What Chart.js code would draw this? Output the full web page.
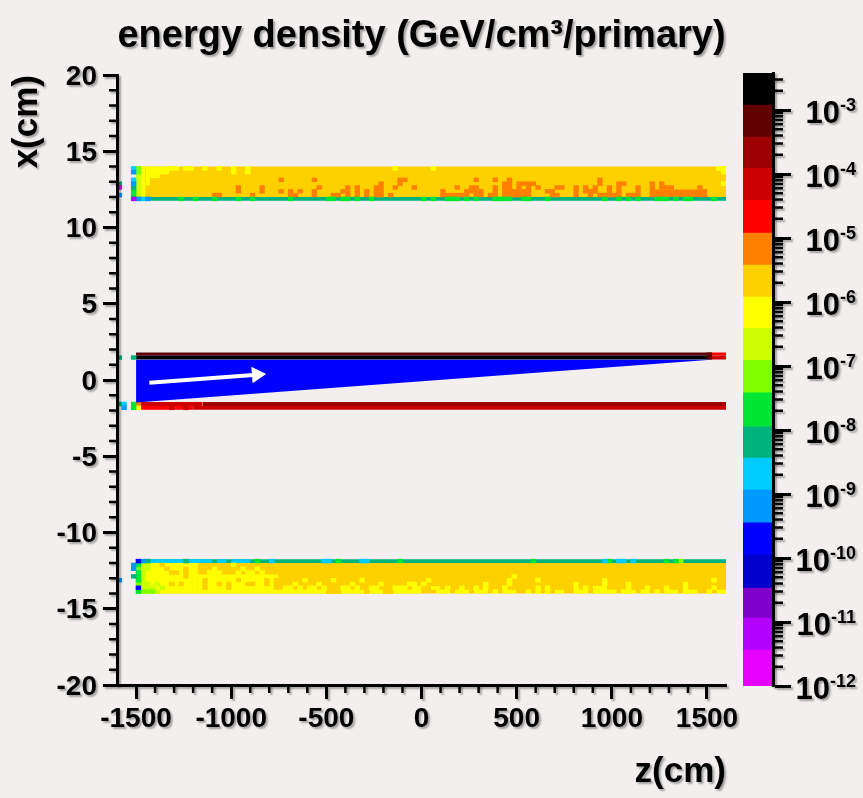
<!DOCTYPE html>
<html>
<head>
<meta charset="utf-8">
<script src="https://cdn.jsdelivr.net/npm/chart.js@4.4.1/dist/chart.umd.min.js"></script>
<style>
  html, body { margin: 0; padding: 0; background: #f2efee; }
  #wrap { position: relative; width: 863px; height: 798px; }
  #wrap canvas { position: absolute; left: 0; top: 0; }
</style>
</head>
<body>
<div id="wrap">
  <canvas id="map" width="863" height="798"></canvas>
  <canvas id="palette" width="863" height="798"></canvas>
</div>
<script>
// palette levels, lowest first
const MAG = 0, VIO = 1, PUR = 2, DBL = 3, BLU = 4, SKY = 5, CYN = 6, TEA = 7, GRN = 8, CHA = 9,
      YGR = 10, YEL = 11, GLD = 12, ORA = 13, RED = 14, CRI = 15, DRD = 16, MAR = 17, BLK = 18;
const levelColors = ['#e600ff', '#b300ff', '#8000cc', '#0000cc', '#0000ff', '#0099ff', '#00ccff',
  '#00b37d', '#00e633', '#80ff00', '#ccff00', '#ffff00', '#fdd000', '#ff8000', '#ff0000',
  '#cc0000', '#9c0000', '#600000', '#000000'];
// log10 of the palette boundaries
const levelEdges = [-12, -11.44, -10.94, -10.47, -9.95, -9.45, -8.94, -8.44, -7.95, -7.42,
  -6.91, -6.41, -5.92, -5.42, -4.92, -4.41, -3.91, -3.42, -2.92, -2.42];
const paletteDecades = [-12, -11, -10, -9, -8, -7, -6, -5, -4, -3];

const zTicks = [-1500, -1000, -500, 0, 500, 1000, 1500];
const xTicks = [-20, -15, -10, -5, 0, 5, 10, 15, 20];
const zBin = 25;

// uniform areas: [zFrom, zTo, xFrom, xTo, level]
const upperAreas = [
  [-1500, 1600, 12, 14, GLD],
  [-1500, 1600, 11.75, 12, TEA],
  [-1475, -1450, 12, 14, YEL],
  [-1450, -1325, 13.5, 14, YEL],
  [-1450, -1425, 12.75, 13.5, YEL],
  [-1425, -1375, 13.25, 13.5, YEL],
  [1225, 1475, 12, 12.5, ORA]
];
const lowerAreas = [
  [-1500, 1600, -14, -12, GLD],
  [-1500, 1600, -12, -11.75, TEA],
  [-1475, -1175, -14, -12, YEL],
  [-1175, -750, -14, -12.75, YEL],
  [-750, -50, -14, -13.75, YEL],
  [-50, 0, -14, -13.5, YEL],
  [50, 100, -13.75, -13.5, YEL],
  [75, 150, -14, -13.75, YEL],
  [175, 250, -14, -13.75, YEL],
  [275, 350, -14, -13.75, YEL],
  [425, 500, -14, -13.75, YEL],
  [700, 750, -14, -13.75, YEL],
  [800, 875, -14, -13.75, YEL],
  [900, 1025, -14, -13.75, YEL],
  [900, 975, -13.75, -13.5, YEL],
  [1075, 1125, -14, -13.75, YEL],
  [1150, 1200, -14, -13.75, YEL],
  [1275, 1350, -14, -13.75, YEL],
  [1400, 1450, -14, -13.75, YEL],
  [1550, 1600, -14, -13.75, YEL],
  [-1475, -1100, -12, -11.75, CYN],
  [-1075, -1025, -12, -11.75, CYN],
  [-1000, -900, -12, -11.75, CYN]
];
const pipeAreas = [
  [-1500, 1500, 1.6, 1.8, MAR],
  [-1500, 1500, 1.35, 1.6, BLK],
  [1525, 1600, 1.6, 1.8, RED],
  [1525, 1600, 1.35, 1.6, CRI],
  [-1475, -1150, -1.7, -1.45, CRI],
  [-1150, 1600, -1.7, -1.45, DRD],
  [-1475, -1200, -1.95, -1.7, RED],
  [-1200, 1600, -1.95, -1.7, CRI]
];

// single z columns: [zFrom, xFrom, xTo, level]
const upperCells = [
  [-1600, 12.75, 13, TEA], [-1600, 12.5, 12.75, MAG], [-1600, 12, 12.25, SKY],
  [-1525, 13.75, 14, CYN], [-1525, 13.5, 13.75, SKY], [-1525, 13, 13.25, CYN], [-1525, 12.75, 13, SKY],
  [-1525, 12.5, 12.75, TEA], [-1525, 12, 12.5, GRN], [-1525, 11.75, 12, VIO],
  [-1500, 13.5, 14, CHA], [-1500, 12, 13.5, YGR], [-1500, 11.75, 12, SKY],
  [-1475, 11.75, 12, CYN], [-1450, 11.75, 12, SKY],
  [-1325, 13.75, 14, YEL], [-1300, 13.75, 14, YEL], [-1250, 13.75, 14, YEL], [-1225, 13.75, 14, YEL],
  [-1150, 13.75, 14, YEL], [-1075, 13.75, 14, YEL], [-1000, 13.5, 14, YEL], [-925, 13.5, 14, YEL],
  [-150, 13.75, 14, YEL], [50, 13.75, 14, YEL], [1550, 13.75, 14, YEL], [1575, 13.5, 14, YEL],
  [1575, 12.75, 13, YEL]
];
// orange columns in the upper band: [zFrom, xFrom, xTo]
const upperOrange = [
  [-1100, 12, 12.25], [-1075, 12, 12.25], [-975, 12.25, 12.75], [-900, 12, 12.25], [-850, 12.25, 12.75],
  [-750, 13, 13.25], [-750, 12.25, 12.5], [-700, 12, 12.5], [-675, 12, 12.25], [-650, 12.25, 12.5],
  [-575, 13, 13.25], [-575, 12, 12.5], [-550, 12.5, 12.75], [-475, 12, 12.25], [-450, 12, 12.25],
  [-425, 12.25, 12.5], [-400, 12, 12.75], [-350, 12, 12.75], [-300, 12, 12.5], [-250, 12, 12.75],
  [-225, 12, 13], [-175, 12, 12.25], [-150, 12.5, 12.75], [-125, 12.75, 13.25], [-100, 13, 13.25],
  [-50, 12.5, 12.75], [100, 12, 12.5], [125, 12, 12.25], [150, 12, 12.25], [175, 12, 12.25],
  [175, 12.5, 12.75], [200, 12, 12.25], [225, 12, 12.5], [250, 12.25, 12.75], [275, 12, 12.75],
  [275, 13, 13.25], [300, 12, 12.5], [350, 12, 12.25], [375, 12, 12.75], [375, 13, 13.25],
  [425, 12, 13], [450, 12, 13.25], [475, 12, 12.5], [500, 12, 13], [525, 12, 12.5], [525, 12.75, 13],
  [550, 12, 13], [575, 12.75, 13], [600, 12.5, 12.75], [650, 12.25, 12.5], [675, 12, 12.5],
  [700, 12, 12.25], [700, 12.5, 12.75], [725, 12.5, 12.75], [800, 12, 12.75], [850, 12.25, 12.75],
  [875, 12, 12.5], [900, 12.25, 12.75], [925, 12, 12.25], [925, 12.75, 13.25], [950, 12, 12.25],
  [975, 12, 12.75], [1000, 12, 12.25], [1025, 12, 13], [1050, 12.75, 13], [1075, 12, 12.25],
  [1100, 12, 12.25], [1125, 12, 12.75], [1200, 12, 13], [1250, 12.5, 13], [1275, 12.5, 12.75],
  [1300, 12.5, 12.75], [1450, 12.5, 12.75], [1475, 12, 12.5]
];
// green cells in the bottom row (11.75..12) of the upper band: zFrom
const upperGreen = [-1275, -1200, -1100, -975, -900, -700, -500, -475, -425, -400, -350, -275,
  0, 50, 125, 150, 175, 225, 275, 375, 400, 425, 450, 525, 550, 650, 950, 1025, 1075, 1125,
  1225, 1250, 1275, 1325, 1375, 1400, 1525];

const lowerCells = [
  [-1600, -13.25, -13, SKY],
  [-1525, -12.5, -12, SKY], [-1525, -13, -12.75, TEA],
  [-1500, -12, -11.75, BLU], [-1500, -12.25, -12, GRN], [-1500, -12.5, -12.25, CHA],
  [-1500, -13.25, -12.5, GRN], [-1500, -13.5, -13.25, CHA], [-1500, -13.75, -13.5, BLU],
  [-1500, -14, -13.75, GRN],
  [-1475, -12, -11.75, SKY], [-1475, -13.75, -12, YGR], [-1475, -14, -13.75, CHA],
  [-1450, -12, -11.75, TEA], [-1450, -12.5, -12, YGR], [-1450, -13.75, -13.25, YGR], [-1450, -14, -13.75, CHA],
  [-1425, -13.75, -13.5, YGR], [-1425, -14, -13.75, CHA],
  [-1400, -13.5, -13.25, YGR], [-1400, -14, -13.75, YGR], [-1375, -13.75, -13.5, YGR],
  [-1250, -12, -11.75, TEA],
  [-875, -12, -11.75, GRN], [-800, -12, -11.75, CYN], [-525, -12, -11.75, CYN], [-500, -12, -11.75, CYN],
  [-450, -12, -11.75, GRN], [-325, -12, -11.75, CYN], [-300, -12, -11.75, CYN], [-125, -12, -11.75, GRN],
  [575, -12, -11.75, GRN], [950, -12, -11.75, CYN], [975, -12, -11.75, GRN], [1025, -12, -11.75, CYN],
  [1050, -12, -11.75, CYN], [1100, -12, -11.75, CYN], [1275, -12, -11.75, GRN], [1325, -12, -11.75, GRN],
  [1350, -12, -11.75, CHA],
  [-1375, -12.25, -12, GLD], [-1350, -12.5, -12.25, GLD], [-1325, -12.75, -12.5, GLD],
  [-1300, -12.75, -12.5, GLD], [-1250, -13, -12.25, GLD], [-1325, -13.5, -13.25, GLD],
  [-1275, -13.5, -13.25, GLD],
  [-1150, -13.75, -13, GLD], [-1075, -13.5, -13.25, GLD], [-1025, -13.75, -13.25, GLD],
  [-975, -13.25, -13, GLD], [-925, -13.5, -13.25, GLD], [-900, -13.5, -13.25, GLD],
  [-825, -13.5, -13, GLD], [-775, -13.75, -13, GLD],
  [-1125, -12.75, -12.5, YEL], [-1100, -12.75, -12.25, YEL], [-1075, -12.75, -12.5, YEL],
  [-1000, -12.25, -12, YEL], [-975, -12.75, -12.5, YEL], [-950, -12.5, -12.25, YEL],
  [-925, -12.75, -12.5, YEL], [-900, -12.75, -12.5, YEL], [-875, -12.5, -12.25, YEL],
  [-850, -12.75, -12.5, YEL],
  [-500, -14, -13.75, GLD], [-475, -14, -13.75, GLD], [-450, -14, -13.75, GLD],
  [-300, -14, -13.75, GLD], [-200, -14, -13.75, GLD], [-175, -14, -13.75, GLD],
  [-725, -13.75, -13.5, YEL], [-700, -13.75, -13.5, YEL], [-650, -13.75, -13.5, YEL],
  [-600, -13.75, -13.5, YEL], [-575, -13.75, -13.5, YEL], [-525, -13.75, -13.5, YEL],
  [-425, -13.75, -13.5, YEL], [-400, -13.75, -13.5, YEL], [-350, -13.75, -13.5, YEL],
  [-275, -13.75, -13.5, YEL], [-250, -13.75, -13.5, YEL], [-150, -13.75, -13.5, YEL],
  [-125, -13.75, -13.5, YEL], [-100, -13.75, -13.5, YEL],
  [-675, -13.5, -13.25, YEL], [-550, -13.5, -13.25, YEL], [-375, -13.5, -13.25, YEL],
  [-225, -13.5, -13.25, YEL], [-75, -13.5, -13.25, YEL],
  [-625, -13.25, -13, YEL], [-475, -13.25, -13, YEL], [-325, -13.25, -13, YEL],
  [-50, -13.5, -13.25, YEL], [0, -13.5, -13.25, YEL], [25, -13.25, -13, YEL],
  [125, -13.75, -13.5, YEL], [200, -13.75, -13.5, YEL], [275, -13.75, -13.5, YEL],
  [325, -13.75, -13.25, YEL], [375, -14, -13.75, YEL], [425, -13.75, -13.5, YEL],
  [450, -13.5, -13, YEL], [475, -13, -12.75, YEL], [550, -14, -13.75, YEL],
  [600, -14, -13.5, YEL], [600, -13.25, -13, YEL], [650, -14, -13.5, YEL],
  [800, -13.75, -13.25, YEL], [850, -13.75, -13.5, YEL], [950, -13.5, -13, YEL],
  [1050, -14, -13.75, YEL], [1075, -13.75, -13.25, YEL], [1175, -13.75, -13.5, YEL],
  [1225, -14, -13.75, YEL], [1275, -13.75, -13.5, YEL], [1375, -14, -13.25, YEL],
  [1500, -14, -13.75, YEL], [1525, -13.75, -13.5, YEL], [1525, -13.25, -13, YEL]
];
const pipeCells = [
  [1500, 1.35, 1.8, MAR],
  [-1500, -1.7, -1.45, ORA], [-1500, -1.95, -1.7, YEL],
  [-1325, -1.95, -1.7, CRI], [-1250, -1.95, -1.7, CRI],
  [-1525, 1.35, 1.6, TEA], [-1525, -1.95, -1.45, GRN],
  [-1600, 1.35, 1.6, TEA], [-1600, -1.7, -1.45, TEA],
  [-1575, -1.7, -1.45, CYN], [-1575, -1.95, -1.7, SKY]
];

// overlay: beam wedge and direction arrow
const wedgeZ = [-1500, 1520];
const wedgeLowX = [-1.47, 1.33];
const wedgeTopX = 1.33;
const arrowZ = [-1430, -866];
const arrowX = [-0.18, 0.35];

const FONT = "'Liberation Sans', Arial, Helvetica, sans-serif";

function setShadow(ctx, on) {
  ctx.shadowColor = on ? 'rgba(0,0,0,0.32)' : 'rgba(0,0,0,0)';
  ctx.shadowOffsetX = on ? 2 : 0;
  ctx.shadowOffsetY = on ? 2 : 0;
  ctx.shadowBlur = on ? 2 : 0;
}
const shadowPlugin = {
  id: 'inkShadow',
  beforeDraw: c => setShadow(c.ctx, true),
  beforeDatasetsDraw: c => setShadow(c.ctx, false),
  afterDatasetsDraw: c => setShadow(c.ctx, true),
  afterDraw: c => setShadow(c.ctx, false)
};

function minorTickPlugin(specs) {
  return {
    id: 'minorTicks',
    afterDraw(chart) {
      const ctx = chart.ctx;
      ctx.save();
      ctx.strokeStyle = '#000';
      specs.forEach(sp => {
        const s = chart.scales[sp.axis];
        ctx.lineWidth = sp.width;
        ctx.beginPath();
        sp.values.forEach(v => {
          const p = s.getPixelForValue(v);
          if (s.position === 'bottom') { ctx.moveTo(p, s.top); ctx.lineTo(p, s.top + sp.length); }
          else if (s.position === 'left') { ctx.moveTo(s.right, p); ctx.lineTo(s.right - sp.length, p); }
          else { ctx.moveTo(s.left, p); ctx.lineTo(s.left + sp.length, p); }
        });
        ctx.stroke();
      });
      ctx.restore();
    }
  };
}

// "10" with a raised exponent, right aligned, for the palette axis
const powerLabels = {
  id: 'powerLabels',
  afterDraw(chart) {
    const s = chart.scales.y;
    const ctx = chart.ctx;
    const right = 856;
    ctx.save();
    setShadow(ctx, true);
    ctx.fillStyle = '#000';
    ctx.textBaseline = 'alphabetic';
    ctx.textAlign = 'left';
    s.ticks.forEach(t => {
      const y = s.getPixelForValue(t.value);
      const exp = String(Math.round(Math.log10(t.value)));
      ctx.font = 'bold 18px ' + FONT;
      const w2 = ctx.measureText(exp).width;
      ctx.font = 'bold 31px ' + FONT;
      const w1 = ctx.measureText('10').width;
      ctx.fillText('10', right - w2 - w1, y + 13);
      ctx.font = 'bold 18px ' + FONT;
      ctx.fillText(exp, right - w2, y + 1);
    });
    ctx.restore();
  }
};

// ---- main map ----
const datasets = [];
const areas = [].concat(upperAreas, lowerAreas, pipeAreas);
areas.forEach((a, i) => {
  datasets.push({
    type: 'line',
    data: [{x: a[0], y: a[3]}, {x: a[1], y: a[3]}],
    fill: {value: a[2]},
    backgroundColor: levelColors[a[4]],
    borderColor: 'rgba(0,0,0,0)',
    borderWidth: 0,
    pointRadius: 0,
    order: 1000 - i
  });
});

const cells = [].concat(
  upperCells,
  upperOrange.map(c => [c[0], c[1], c[2], ORA]),
  upperGreen.map(z => [z, 11.75, 12, GRN]),
  lowerCells,
  pipeCells
);
levelColors.forEach((color, lvl) => {
  const mine = cells.filter(c => c[3] === lvl);
  if (!mine.length) return;
  datasets.push({
    type: 'bar',
    data: mine.map(c => ({x: c[0] + zBin / 2, y: [c[1], c[2]]})),
    backgroundColor: color,
    borderWidth: 0,
    grouped: false,
    categoryPercentage: 1,
    barPercentage: 1,
    order: 50
  });
});

datasets.push({
  type: 'line',
  data: wedgeZ.map((z, i) => ({x: z, y: wedgeLowX[i]})),
  fill: {value: wedgeTopX},
  backgroundColor: '#0000ff',
  borderColor: 'rgba(0,0,0,0)',
  borderWidth: 0,
  pointRadius: 0,
  order: 5
});
datasets.push({
  type: 'line',
  data: arrowZ.map((z, i) => ({x: z, y: arrowX[i]})),
  borderColor: '#ffffff',
  borderWidth: 4,
  fill: false,
  pointRadius: [0, 9.5],
  pointStyle: 'triangle',
  pointRotation: 85.8,
  pointBackgroundColor: '#ffffff',
  pointBorderWidth: 0,
  order: 1
});

const zMinor = [];
for (let v = -1500; v < 1600; v += 100) if (v % 500 !== 0) zMinor.push(v);
const xMinor = [];
for (let v = -19; v <= 19; v++) if (v % 5 !== 0) xMinor.push(v);

const tickFont = {family: FONT, size: 28, weight: 'bold'};
const axisTitleFont = {family: FONT, size: 35, weight: 'bold'};

new Chart(document.getElementById('map'), {
  type: 'bar',
  data: {datasets},
  options: {
    responsive: false,
    animation: false,
    events: [],
    layout: {padding: {left: 0, top: 0, right: 137, bottom: 0}},
    plugins: {
      legend: {display: false},
      tooltip: {enabled: false},
      title: {
        display: true,
        text: 'energy density (GeV/cm\u00b3/primary)',
        fullSize: false,
        color: '#000',
        font: {family: FONT, size: 38, weight: 'bold'},
        padding: {top: 14, bottom: 15.4}
      }
    },
    scales: {
      x: {
        type: 'linear', min: -1600, max: 1600, offset: false,
        afterBuildTicks: s => { s.ticks = zTicks.map(v => ({value: v})); },
        afterFit: s => { s.height = 113; },
        grid: {offset: false, drawOnChartArea: false, tickLength: 14, tickWidth: 3, tickColor: '#000'},
        border: {color: '#000', width: 3, z: 1},
        ticks: {font: tickFont, color: '#000', padding: 3, maxRotation: 0, autoSkip: false,
          callback: v => String(v)},
        title: {display: true, text: 'z(cm)', align: 'end', color: '#000', font: axisTitleFont,
          padding: {top: 0, bottom: 5}}
      },
      y: {
        type: 'linear', min: -20, max: 20,
        afterBuildTicks: s => { s.ticks = xTicks.map(v => ({value: v})); },
        afterFit: s => { s.width = 117; },
        grid: {drawOnChartArea: false, tickLength: 14, tickWidth: 3, tickColor: '#000'},
        border: {color: '#000', width: 3, z: 1},
        ticks: {font: tickFont, color: '#000', padding: 6, labelOffset: 2, autoSkip: false,
          callback: v => String(v)},
        title: {display: true, text: 'x(cm)', align: 'end', color: '#000', font: axisTitleFont,
          padding: {top: 6, bottom: 0}}
      }
    }
  },
  plugins: [
    minorTickPlugin([
      {axis: 'x', values: zMinor, length: 8, width: 2.5},
      {axis: 'y', values: xMinor, length: 8, width: 2.5}
    ]),
    shadowPlugin
  ]
});

// ---- palette axis ----
const logMinor = [];
const logMax = Math.pow(10, levelEdges[levelEdges.length - 1]);
for (let e = -12; e <= -3; e++) {
  for (let k = 2; k <= 9; k++) {
    const v = k * Math.pow(10, e);
    if (v < logMax) logMinor.push(v);
  }
}

new Chart(document.getElementById('palette'), {
  type: 'bar',
  data: {
    labels: [''],
    datasets: levelColors.map((color, i) => ({
      data: [[Math.pow(10, levelEdges[i]), Math.pow(10, levelEdges[i + 1])]],
      backgroundColor: color,
      borderWidth: 0,
      grouped: false,
      categoryPercentage: 1,
      barPercentage: 1
    }))
  },
  options: {
    responsive: false,
    animation: false,
    events: [],
    layout: {padding: {left: 743, top: 73, bottom: 112, right: 0}},
    plugins: {legend: {display: false}, tooltip: {enabled: false}},
    scales: {
      x: {display: false},
      y: {
        type: 'logarithmic', position: 'right',
        min: Math.pow(10, levelEdges[0]), max: logMax,
        afterBuildTicks: s => { s.ticks = paletteDecades.map(e => ({value: Math.pow(10, e)})); },
        afterFit: s => { s.width = 90; },
        grid: {drawOnChartArea: false, tickLength: 18, tickWidth: 3, tickColor: '#000'},
        border: {color: '#000', width: 3, z: 1},
        ticks: {display: false}
      }
    }
  },
  plugins: [
    minorTickPlugin([{axis: 'y', values: logMinor, length: 10, width: 2.5}]),
    powerLabels,
    shadowPlugin
  ]
});
</script>
</body>
</html>
